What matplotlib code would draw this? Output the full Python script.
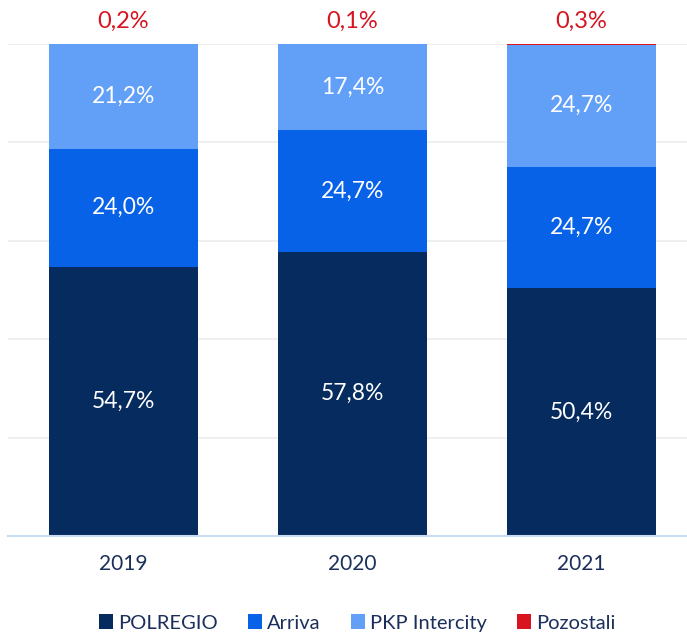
import numpy as np
import matplotlib.pyplot as plt

plt.rcParams['font.family'] = ['Lato', 'DejaVu Sans']

years = ['2019', '2020', '2021']
polregio = [54.7, 57.8, 50.4]
arriva = [24.0, 24.7, 24.7]
intercity = [21.2, 17.4, 24.7]
pozostali = [0.2, 0.1, 0.3]

series = [('POLREGIO', polregio, '#062b5f'),
          ('Arriva', arriva, '#0862e8'),
          ('PKP Intercity', intercity, '#62a0f8'),
          ('Pozostali', pozostali, '#d7141f')]

fig = plt.figure(figsize=(6.87, 6.36), dpi=100)
ax = fig.add_axes([8 / 687, 100 / 636, 679 / 687, 492 / 636])

x = np.arange(len(years))
bottom = np.zeros(len(years))
for name, vals, color in series:
    vals = np.array(vals)
    ax.bar(x, vals, 0.65, bottom=bottom, color=color, label=name, zorder=2)
    for xi, b, v in zip(x, bottom, vals):
        txt = ('%.1f%%' % v).replace('.', ',')
        if name == 'Pozostali':
            ax.text(xi, 100 + 2.5, txt, ha='center', va='bottom',
                    color='#d7141f', fontsize=17, clip_on=False)
        else:
            ax.text(xi, b + v / 2, txt, ha='center', va='center',
                    color='white', fontsize=16.5)
    bottom += vals

ax.set_xlim(-0.502, 2.46)
ax.set_ylim(0, 100)
ax.set_yticks(np.arange(0, 101, 20))
ax.yaxis.grid(True, color='#ececec', linewidth=1.2, zorder=0)
ax.tick_params(axis='y', left=False, labelleft=False)
ax.tick_params(axis='x', length=0, pad=13, labelsize=15, labelcolor='#1b2f5b')
ax.set_xticks(x)
ax.set_xticklabels(years)
for s in ['top', 'right', 'left']:
    ax.spines[s].set_visible(False)
ax.spines['bottom'].set_color('#c8dbf2')
ax.spines['bottom'].set_linewidth(1.5)

leg = ax.legend(loc='center', ncol=4, frameon=False,
                handlelength=0.7, handleheight=0.7,
                handletextpad=0.25, columnspacing=1.5, fontsize=14.5)
for t in leg.get_texts():
    t.set_color('#1b2f5b')
leg.set_bbox_to_anchor((357 / 687, 13 / 636), transform=fig.transFigure)

fig.savefig('out.png', dpi=100)
